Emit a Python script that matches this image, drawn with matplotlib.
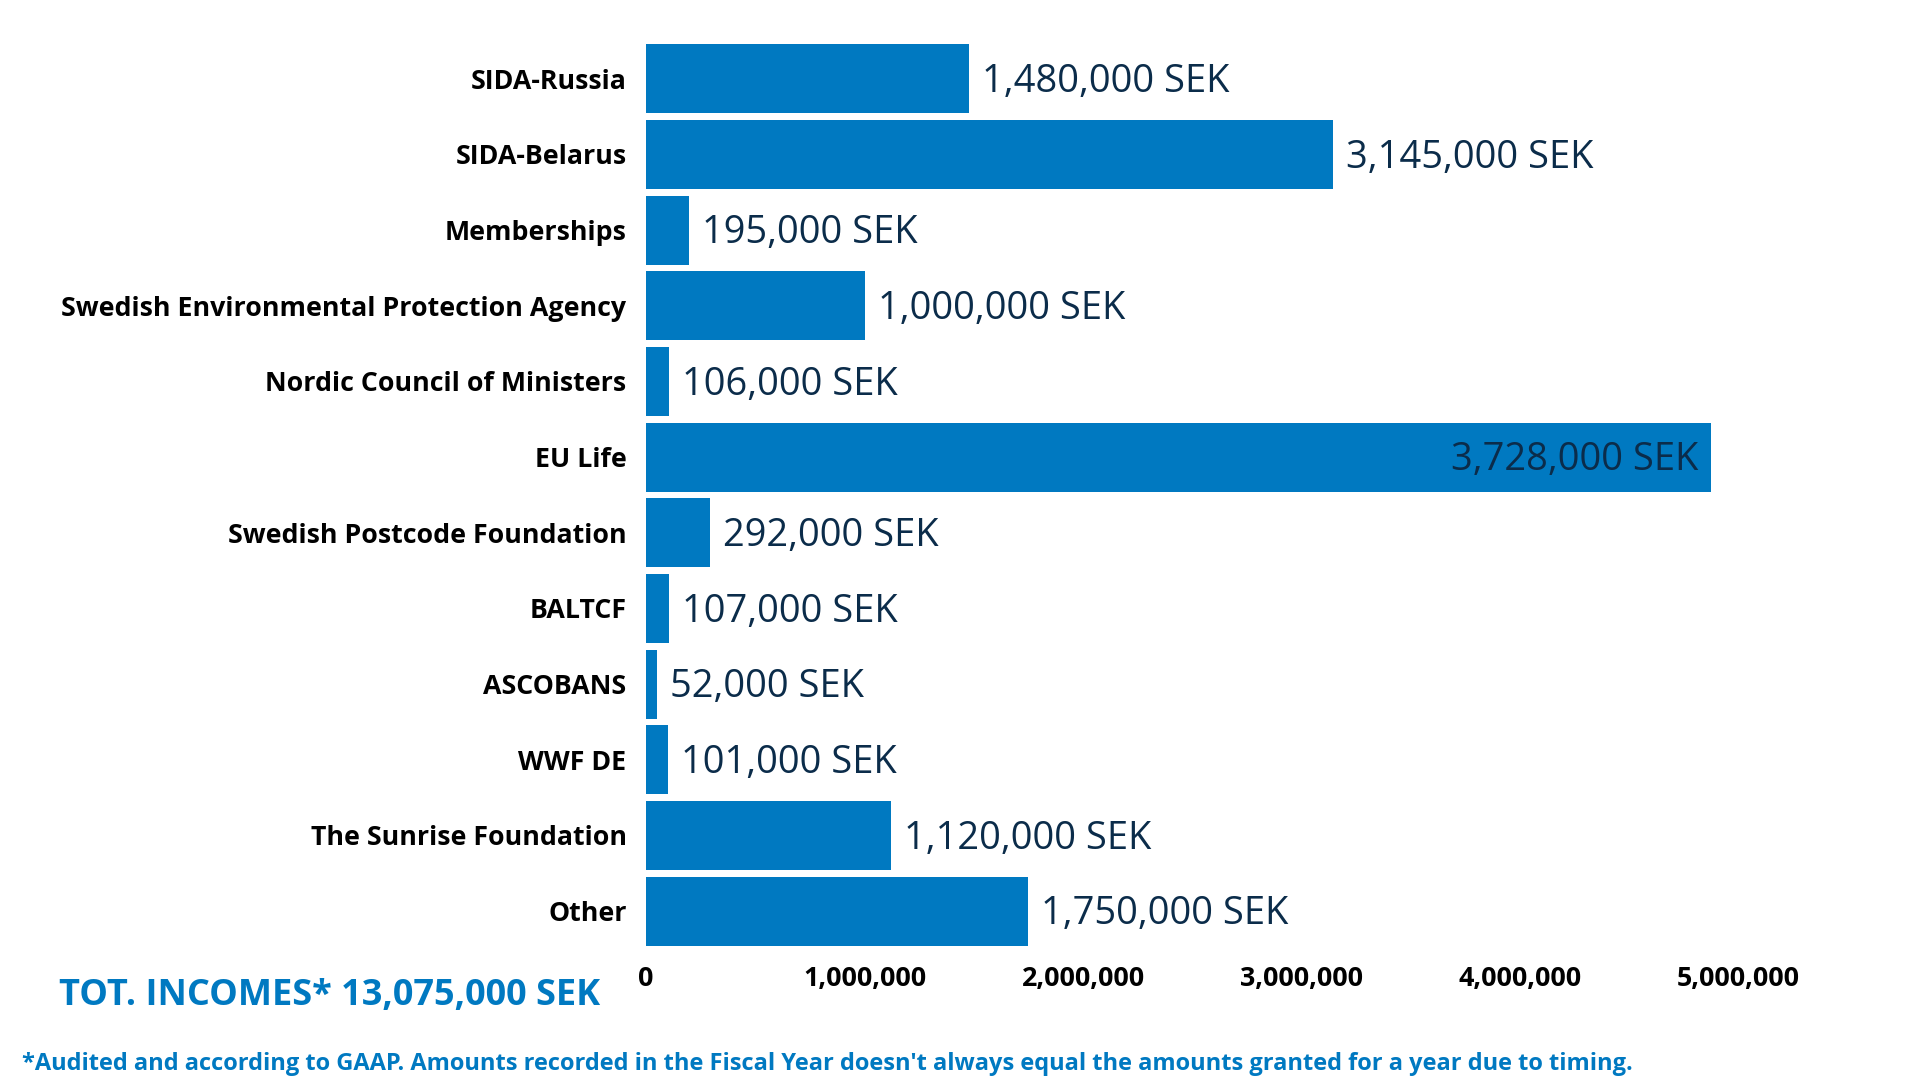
"""
income sources bar chart, SEK
"""
from matplotlib import pyplot as plt
import numpy as np

categories = ['SIDA-Russia', 'SIDA-Belarus', 'Memberships',
              'Swedish Environmental Protection Agency', 'Nordic Council of Ministers',
              'EU Life', 'Swedish Postcode Foundation', 'BALTCF', 'ASCOBANS',
              'WWF DE', 'The Sunrise Foundation', 'Other']
amounts = [1480000, 3145000, 195000, 1000000, 106000, 3728000,
           292000, 107000, 52000, 101000, 1120000, 1750000]
# bar lengths as drawn in the original (EU Life bar is drawn longer than its label)
bar_lengths = [1480000, 3145000, 195000, 1000000, 106000, 4875000,
               292000, 107000, 52000, 101000, 1120000, 1750000]
xticks = [0, 1000000, 2000000, 3000000, 4000000, 5000000]
total_text = 'TOT. INCOMES* 13,075,000 SEK'
footnote = ("*Audited and according to GAAP. Amounts recorded in the Fiscal Year "
            "doesn't always equal the amounts granted for a year due to timing.")

blue = '#0079c1'
navy = '#0b2c4a'
W, H = 1920, 1080

plt.rcParams['font.family'] = ['Open Sans', 'DejaVu Sans']
fig = plt.figure(figsize=(19.2, 10.8), dpi=100)
fig.patch.set_facecolor('white')

px_per_unit = 218.5 / 1e6
xmax = 5.5e6
left, top, bottom = 646, 41, 949
ax = fig.add_axes([left / W, 1 - bottom / H, xmax * px_per_unit / W, (bottom - top) / H])

y = np.arange(len(categories))
ax.barh(y, bar_lengths, height=0.912, color=blue, edgecolor='none')
ax.set_ylim(len(categories) - 0.5, -0.5)
ax.set_xlim(0, xmax)

for yi, (length, amt) in enumerate(zip(bar_lengths, amounts)):
    txt = f'{amt:,} SEK'
    if length > 4e6:
        ax.text(length - 0.06e6, yi + 0.04, txt, ha='right', va='center',
                fontsize=27.4, color=navy)
    else:
        ax.text(length + 0.06e6, yi + 0.04, txt, ha='left', va='center',
                fontsize=27.4, color=navy)

ax.set_yticks(y)
ax.set_yticklabels(categories, fontsize=19.3, fontweight='bold', color='black')
ax.set_xticks(xticks)
ax.set_xticklabels([f'{v:,}' for v in xticks], fontsize=19.4, fontweight='bold',
                   color='black')
ax.tick_params(axis='y', length=0, pad=14)
ax.tick_params(axis='x', length=0, pad=12)
for s in ax.spines.values():
    s.set_visible(False)

fig.text(59 / W, 1 - 996 / H, total_text, ha='left', va='center',
         fontsize=26, fontweight='bold', color=blue)
fig.text(22 / W, 1 - 1064 / H, footnote, ha='left', va='center',
         fontsize=17, fontweight='bold', color=blue)

fig.savefig('out.png', dpi=100, facecolor='white')
